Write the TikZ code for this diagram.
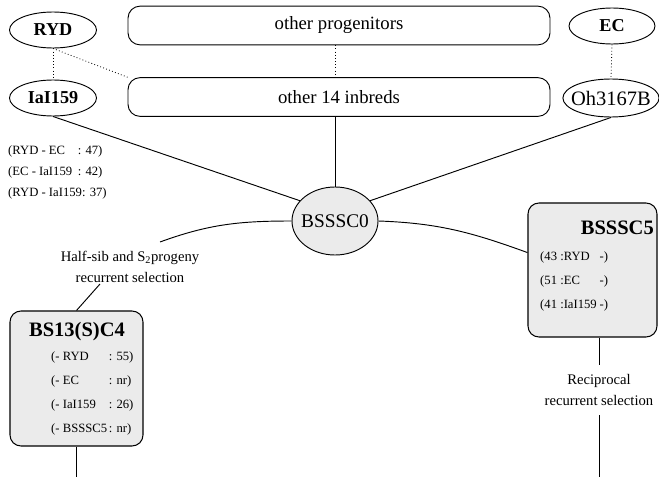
\documentclass[tikz,border=0pt]{standalone}
\usepackage{fontspec}
\setmainfont{Liberation Serif}
\usetikzlibrary{shapes.geometric}
\definecolor{stipple}{gray}{0.92}
\tikzset{
  parentnode/.style={draw,ellipse,line width=0.8pt,inner xsep=-5pt,inner ysep=-3pt,minimum width=2.61cm,minimum height=1.08cm,font=\fontsize{15.5}{18}\selectfont\bfseries},
  poolbox/.style={draw,line width=0.8pt,rounded corners=0.36cm,minimum width=12.66cm,minimum height=1.16cm,font=\fontsize{16}{19}\selectfont},
  popbox/.style={draw,line width=0.9pt,rounded corners=0.33cm,fill=stipple},
  poptitle/.style={inner sep=0pt,font=\fontsize{17.5}{20}\selectfont\bfseries},
  pairdist/.style={anchor=west,inner sep=0pt,font=\fontsize{10.8}{12}\selectfont},
  popentry/.style={anchor=west,inner sep=0pt,font=\fontsize{10.8}{12}\selectfont},
  selnote/.style={align=center,inner sep=0pt,font=\fontsize{12.5}{18.5}\selectfont},
  pedigree/.style={dotted,line width=0.7pt},
  solidlink/.style={line width=0.8pt}
}
\begin{document}
\begin{tikzpicture}[x=0.03cm,y=-0.03cm]
\useasboundingbox (0,0) rectangle (659,477);
\node[parentnode] (ryd) at (53,30) {RYD};
\node[parentnode] (iai) at (53,98) {IaI159};
\node[parentnode,minimum width=2.58cm] (ec) at (612,26) {EC};
\node[parentnode,minimum width=2.73cm,minimum height=1.14cm,font=\fontsize{17.5}{20}\selectfont] (oh) at (611,98) {Oh3167B};
\node[poolbox] (prog) at (339,25.5) {other progenitors};
\node[poolbox] (inbred) at (339,97) {other 14 inbreds};
\node[draw,ellipse,line width=0.8pt,fill=stipple,inner xsep=-6pt,inner ysep=-3pt,minimum width=2.58cm,minimum height=2.04cm,font=\fontsize{16.5}{19}\selectfont] (c0) at (335,221) {BSSSC0};
\draw[pedigree] (ryd.south) -- (iai.north);
\draw[pedigree] (ryd.south) -- (inbred.north west);
\draw[pedigree] (c0 |- prog.south) -- (c0 |- inbred.north);
\draw[pedigree] (ec.south) -- (oh.north);
\draw[solidlink] (iai.south) -- (c0.150);
\draw[solidlink] (c0 |- inbred.south) -- (c0.north);
\draw[solidlink] (oh.south) -- (c0.30);
\node[pairdist] (d1) at (8,151) {\makebox[5.5em][l]{(RYD - EC}: 47)};
\node[pairdist] (d2) at (8,172) {\makebox[5.5em][l]{(EC - IaI159}: 42)};
\node[pairdist] (d3) at (8,193) {(RYD - IaI159: 37)};
\node[selnote,minimum height=1.26cm] (hs) at (130,267) {Half-sib and S\textsubscript{2}progeny\\recurrent selection};
\coordinate (hstop) at (160,242);
\coordinate (hsbot) at (100,284);
\node[popbox,minimum width=3.99cm,minimum height=4.05cm] (b13) at (76.5,378.5) {};
\node[poptitle] (b13t) at (77,332) {BS13(S)C4};
\node[popentry] (b13a) at (51,357) {\makebox[4.55em][l]{(- RYD}: 55)};
\node[popentry] (b13b) at (51,381) {\makebox[4.55em][l]{(- EC}: nr)};
\node[popentry] (b13c) at (51,405) {\makebox[4.55em][l]{(- IaI159}: 26)};
\node[popentry] (b13d) at (51,429) {\makebox[4.55em][l]{(- BSSSC5}: nr)};
\coordinate (b13end) at (76.5,477);
\node[popbox,minimum width=3.87cm,minimum height=4.02cm] (b5) at (592.5,270) {};
\node[poptitle,anchor=east] (b5t) at (654,228) {BSSSC5};
\node[popentry] (b5a) at (540,257) {\makebox[4.7em][l]{(43 :RYD}-)};
\node[popentry] (b5b) at (540,281) {\makebox[4.7em][l]{(51 :EC}-)};
\node[popentry] (b5c) at (540,305) {\makebox[4.7em][l]{(41 :IaI159}-)};
\node[selnote,minimum height=1.5cm] (rrs) at (599,390) {Reciprocal\\recurrent selection};
\coordinate (rrsend) at (599,477);
\draw[solidlink] (c0.west) to[out=180,in=20] (hstop);
\draw[solidlink] (hsbot) -- (b13.north);
\draw[solidlink] (b13.south) -- (b13end);
\draw[solidlink] (c0.east) to[out=-2,in=160] (b5.165);
\draw[solidlink] (b5.south -| rrs) -- (rrs.north);
\draw[solidlink] (rrs.south) -- (rrsend);
\end{tikzpicture}
\end{document}
